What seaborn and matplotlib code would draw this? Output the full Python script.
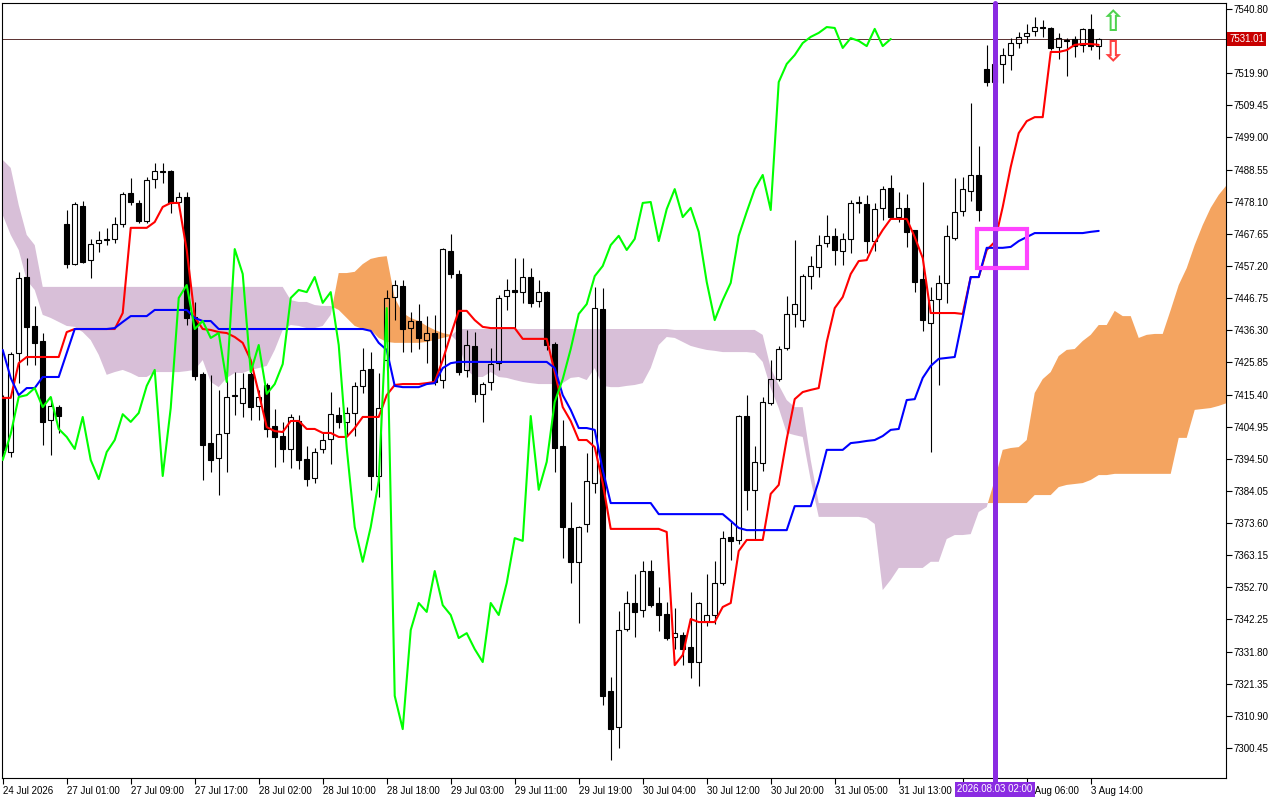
import numpy as np
import pandas as pd
import matplotlib
matplotlib.use('Agg')
import matplotlib.pyplot as plt
import matplotlib.transforms as mtransforms
from matplotlib.patches import Rectangle
import seaborn as sns

# ---------------- data (H1 bars, index 0..137) ----------------
opens = [
    7414.3, 7396.7, 7428.9, 7453.6, 7437.7, 7432.8, 7407.1, 7411.3, 7470.9, 7457.8,
    7476.7, 7459.2, 7464.7, 7465.7, 7466.0, 7470.9, 7480.9, 7477.7, 7471.8, 7485.5,
    7488.1, 7488.1, 7478.0, 7479.6, 7440.6, 7422.1, 7399.6, 7394.8, 7402.9, 7414.9,
    7412.6, 7422.1, 7411.7, 7418.5, 7405.2, 7401.9, 7397.7, 7406.8, 7394.4, 7388.3,
    7397.7, 7400.9, 7408.7, 7406.5, 7409.4, 7418.2, 7423.7, 7388.9, 7426.6, 7447.1,
    7450.7, 7437.0, 7439.3, 7433.1, 7435.4, 7420.1, 7462.1, 7454.6, 7423.4, 7431.2,
    7415.6, 7419.5, 7425.6, 7447.4, 7449.4, 7448.7, 7453.6, 7445.8, 7448.7, 7431.8,
    7398.7, 7372.0, 7361.0, 7373.3, 7386.6, 7443.2, 7319.0, 7307.3, 7339.2, 7347.6,
    7345.3, 7358.0, 7347.6, 7344.0, 7336.5, 7337.2, 7333.3, 7328.4, 7341.7, 7343.7,
    7354.1, 7369.1, 7368.1, 7408.4, 7384.4, 7393.1, 7412.6, 7420.4, 7430.5, 7441.6,
    7439.6, 7453.9, 7456.9, 7464.7, 7467.0, 7462.1, 7466.0, 7477.7, 7477.4, 7465.3,
    7476.1, 7482.6, 7473.1, 7476.1, 7468.9, 7453.0, 7438.7, 7446.5, 7451.7, 7466.3,
    7475.1, 7481.6, 7486.8, 7521.3, 7517.0, 7522.9, 7525.8, 7529.7, 7532.0, 7533.6,
    7534.9, 7534.6, 7528.4, 7530.7, 7531.0, 7529.1, 7534.3, 7528.7]
highs = [
    7415.2, 7429.2, 7455.3, 7459.8, 7444.2, 7435.4, 7414.6, 7412.0, 7475.4, 7478.0,
    7478.3, 7466.0, 7468.6, 7469.6, 7473.1, 7481.3, 7485.8, 7478.7, 7486.1, 7490.7,
    7490.7, 7488.4, 7481.3, 7481.3, 7445.5, 7422.7, 7421.8, 7416.9, 7420.1, 7422.7,
    7422.4, 7422.7, 7416.9, 7419.1, 7410.7, 7406.5, 7409.0, 7408.7, 7398.7, 7398.0,
    7402.9, 7416.2, 7411.3, 7411.3, 7419.5, 7430.5, 7429.2, 7422.4, 7449.4, 7452.6,
    7452.6, 7442.2, 7444.8, 7440.9, 7441.3, 7463.1, 7467.6, 7455.9, 7436.4, 7435.7,
    7419.5, 7430.5, 7447.8, 7453.0, 7459.8, 7459.8, 7456.5, 7452.6, 7449.1, 7432.5,
    7407.1, 7380.5, 7372.6, 7396.4, 7450.4, 7450.0, 7323.5, 7345.0, 7351.5, 7357.0,
    7361.3, 7361.6, 7352.8, 7347.9, 7346.0, 7338.2, 7351.2, 7347.9, 7357.0, 7361.3,
    7371.0, 7374.0, 7408.7, 7415.2, 7398.7, 7414.6, 7426.6, 7431.2, 7447.4, 7465.7,
    7454.6, 7460.4, 7467.3, 7473.8, 7469.6, 7467.9, 7478.7, 7479.9, 7480.3, 7477.7,
    7483.2, 7486.8, 7481.3, 7480.6, 7468.9, 7484.5, 7450.4, 7454.3, 7470.5, 7485.8,
    7486.1, 7510.2, 7496.2, 7529.1, 7523.5, 7528.1, 7531.3, 7533.3, 7535.9, 7538.2,
    7537.2, 7534.9, 7533.0, 7531.3, 7532.0, 7534.6, 7539.1, 7531.3]
lows = [
    7395.7, 7395.1, 7419.1, 7425.0, 7425.0, 7399.0, 7395.7, 7402.9, 7456.5, 7457.5,
    7458.2, 7453.3, 7461.7, 7464.0, 7464.7, 7469.9, 7477.0, 7471.2, 7471.2, 7482.6,
    7484.2, 7474.4, 7477.7, 7438.0, 7420.1, 7387.6, 7390.2, 7382.7, 7390.2, 7408.7,
    7408.1, 7407.1, 7407.1, 7401.6, 7391.8, 7393.5, 7391.5, 7391.2, 7385.6, 7386.6,
    7396.4, 7392.8, 7404.5, 7401.9, 7401.9, 7415.9, 7384.4, 7382.1, 7423.4, 7439.6,
    7429.2, 7429.2, 7430.2, 7425.6, 7418.5, 7417.5, 7453.3, 7421.8, 7421.1, 7413.0,
    7406.5, 7416.9, 7423.4, 7442.9, 7437.0, 7445.2, 7443.9, 7443.9, 7429.9, 7390.2,
    7362.2, 7354.1, 7341.1, 7370.7, 7383.4, 7314.4, 7296.6, 7300.5, 7338.5, 7336.5,
    7343.1, 7346.3, 7338.5, 7335.6, 7332.6, 7327.4, 7323.2, 7320.6, 7340.1, 7340.8,
    7353.5, 7361.6, 7366.8, 7377.9, 7368.4, 7390.5, 7412.0, 7419.8, 7429.9, 7437.4,
    7437.4, 7449.7, 7453.6, 7463.4, 7457.5, 7457.5, 7461.4, 7474.4, 7461.4, 7462.1,
    7472.2, 7472.8, 7471.5, 7463.4, 7448.7, 7436.1, 7396.7, 7418.5, 7445.2, 7465.7,
    7473.4, 7478.3, 7471.8, 7515.7, 7514.4, 7516.7, 7520.9, 7528.1, 7529.7, 7532.0,
    7531.7, 7527.4, 7524.5, 7519.0, 7525.2, 7526.8, 7527.4, 7524.5]
closes = [
    7397.4, 7428.6, 7453.3, 7437.4, 7432.2, 7406.5, 7411.7, 7408.4, 7457.8, 7477.4,
    7458.5, 7464.4, 7465.7, 7466.0, 7470.9, 7480.6, 7478.0, 7471.8, 7485.2, 7488.1,
    7487.8, 7477.7, 7479.6, 7440.3, 7421.4, 7399.0, 7394.1, 7402.6, 7414.6, 7415.2,
    7417.5, 7411.3, 7414.6, 7404.2, 7401.6, 7397.7, 7408.1, 7394.1, 7387.9, 7396.7,
    7400.6, 7409.0, 7406.5, 7409.4, 7418.2, 7423.4, 7388.9, 7411.0, 7446.8, 7451.0,
    7436.7, 7439.3, 7433.8, 7435.4, 7419.5, 7462.7, 7454.6, 7422.7, 7431.5, 7415.6,
    7418.8, 7425.3, 7446.8, 7449.4, 7448.7, 7453.6, 7445.2, 7448.7, 7431.5, 7398.0,
    7372.3, 7361.0, 7372.3, 7387.3, 7443.5, 7317.4, 7306.6, 7338.8, 7347.6, 7344.7,
    7358.0, 7346.9, 7343.7, 7336.2, 7337.8, 7332.6, 7328.4, 7347.6, 7343.7, 7354.1,
    7368.7, 7367.8, 7408.4, 7384.4, 7393.5, 7413.0, 7420.4, 7430.2, 7441.6, 7444.8,
    7453.9, 7457.2, 7464.0, 7467.0, 7462.4, 7466.0, 7477.7, 7478.0, 7465.3, 7475.7,
    7482.2, 7473.1, 7476.1, 7468.3, 7452.0, 7439.6, 7446.1, 7451.7, 7467.0, 7474.8,
    7482.2, 7486.8, 7475.4, 7517.0, 7522.9, 7525.8, 7529.7, 7531.7, 7533.0, 7534.9,
    7534.6, 7528.1, 7531.3, 7530.4, 7528.7, 7534.3, 7528.7, 7531.01]

tenkan = [
    7414.3, 7414.3, 7425.6, 7427.6, 7427.6, 7427.6, 7427.6, 7427.6, 7435.7, 7436.7,
    7436.7, 7436.7, 7436.7, 7436.7, 7436.7, 7441.9, 7469.6, 7469.6, 7469.6, 7471.5,
    7476.4, 7477.7, 7477.7, 7462.4, 7440.6, 7436.7, 7436.4, 7435.7, 7435.4, 7434.1,
    7432.2, 7426.6, 7415.9, 7404.8, 7403.5, 7403.2, 7406.8, 7406.8, 7404.2, 7404.2,
    7402.9, 7402.9, 7401.6, 7401.6, 7404.5, 7408.1, 7408.1, 7408.1, 7415.2, 7418.5,
    7418.8, 7418.8, 7418.8, 7419.1, 7419.5, 7426.6, 7434.8, 7442.6, 7442.6, 7439.6,
    7437.4, 7437.0, 7437.0, 7437.0, 7437.0, 7433.5, 7433.5, 7433.5, 7433.5, 7422.7,
    7411.3, 7406.8, 7400.6, 7400.6, 7398.3, 7386.6, 7371.7, 7371.7, 7371.7, 7371.7,
    7371.7, 7371.7, 7371.7, 7370.7, 7327.4, 7330.7, 7342.4, 7341.4, 7341.4, 7341.4,
    7346.3, 7347.6, 7364.5, 7368.1, 7368.1, 7368.1, 7383.1, 7386.0, 7400.9, 7413.9,
    7416.2, 7416.9, 7417.5, 7432.5, 7443.5, 7447.1, 7454.6, 7458.8, 7459.1, 7464.7,
    7468.9, 7472.5, 7472.5, 7472.5, 7466.6, 7459.8, 7441.9, 7441.9, 7441.9, 7441.9,
    7441.6, 7453.6, 7453.6, 7462.4, 7465.0, 7476.4, 7489.4, 7500.4, 7504.3, 7505.6,
    7505.6, 7526.8, 7526.8, 7527.4, 7529.1, 7529.4, 7529.4, 7529.1]
kijun = [
    7429.9, 7420.8, 7415.2, 7417.5, 7417.5, 7421.1, 7421.1, 7421.1, 7428.9, 7436.7,
    7436.7, 7436.7, 7436.7, 7436.7, 7437.0, 7439.0, 7440.9, 7440.9, 7440.9, 7442.9,
    7442.9, 7442.9, 7442.9, 7442.9, 7440.3, 7439.3, 7439.3, 7436.7, 7436.7, 7436.7,
    7436.7, 7436.7, 7436.7, 7436.7, 7436.7, 7436.7, 7436.7, 7436.7, 7436.7, 7436.7,
    7436.7, 7436.7, 7436.7, 7436.7, 7436.7, 7436.7, 7436.1, 7432.2, 7429.9, 7418.2,
    7417.8, 7417.8, 7417.8, 7418.8, 7419.1, 7424.0, 7425.6, 7426.0, 7426.0, 7426.0,
    7426.0, 7426.0, 7426.0, 7426.0, 7426.0, 7426.0, 7426.0, 7426.0, 7426.0, 7424.0,
    7415.2, 7410.4, 7404.5, 7404.5, 7403.9, 7390.9, 7380.1, 7380.1, 7380.1, 7380.1,
    7380.1, 7380.1, 7376.5, 7376.5, 7376.5, 7376.5, 7376.5, 7376.5, 7376.5, 7376.5,
    7376.5, 7374.3, 7372.0, 7371.3, 7371.3, 7371.3, 7371.3, 7371.3, 7371.3, 7379.1,
    7379.1, 7379.1, 7387.3, 7397.4, 7397.4, 7397.4, 7399.6, 7399.9, 7400.3, 7400.6,
    7401.9, 7403.9, 7404.2, 7413.6, 7413.9, 7420.8, 7424.7, 7427.0, 7427.3, 7427.6,
    7440.3, 7453.6, 7453.6, 7463.1, 7463.1, 7463.1, 7463.4, 7465.3, 7466.6, 7467.9,
    7467.9, 7467.9, 7467.9, 7467.9, 7467.9, 7467.9, 7468.3, 7468.6]

# Senkou spans as displayed (already shifted 26 bars ahead), bars 0..153
span_a = [
    7473.8, 7467.3, 7462.4, 7452.6, 7449.4, 7441.3, 7440.3, 7439.0, 7437.7, 7437.4,
    7435.7, 7433.1, 7428.3, 7421.8, 7422.7, 7423.4, 7422.4, 7421.1, 7421.1, 7422.7,
    7422.7, 7422.7, 7422.7, 7423.0, 7423.4, 7426.6, 7419.5, 7417.8, 7420.8, 7422.4,
    7422.4, 7423.4, 7424.0, 7424.7, 7429.9, 7436.4, 7438.0, 7437.7, 7437.0, 7437.0,
    7437.7, 7441.3, 7454.9, 7454.9, 7455.3, 7457.8, 7459.5, 7460.1, 7460.4, 7446.8,
    7441.9, 7440.3, 7439.3, 7437.7, 7436.4, 7435.4, 7434.8, 7432.2, 7423.4, 7421.1,
    7421.1, 7422.7, 7421.1, 7420.8, 7420.1, 7419.5, 7419.1, 7418.8, 7418.8, 7418.8,
    7419.1, 7420.8, 7421.1, 7420.1, 7424.0, 7418.2, 7417.8, 7417.8, 7418.2, 7418.5,
    7419.1, 7424.0, 7431.5, 7434.1, 7433.8, 7432.5, 7431.2, 7430.5, 7429.9, 7429.6,
    7429.2, 7429.2, 7429.2, 7429.2, 7428.9, 7426.0, 7417.5, 7411.0, 7402.9, 7402.2,
    7401.6, 7387.6, 7375.6, 7375.6, 7375.6, 7375.6, 7375.6, 7375.6, 7375.2, 7373.3,
    7351.8, 7355.1, 7359.0, 7359.0, 7359.0, 7359.0, 7361.0, 7361.0, 7368.4, 7369.7,
    7369.7, 7370.0, 7377.2, 7378.8, 7387.6, 7397.4, 7398.0, 7398.3, 7400.6, 7415.9,
    7420.4, 7422.7, 7427.9, 7429.9, 7430.2, 7432.8, 7434.8, 7438.0, 7438.0, 7442.6,
    7440.9, 7440.9, 7433.8, 7434.8, 7435.1, 7435.1, 7442.9, 7451.0, 7456.5, 7464.0,
    7470.5, 7476.1, 7480.3, 7483.5]
span_b = [
    7491.7, 7489.1, 7477.0, 7467.3, 7464.0, 7450.4, 7450.4, 7450.4, 7450.4, 7450.4,
    7450.4, 7450.4, 7450.4, 7450.4, 7450.4, 7450.4, 7450.4, 7450.4, 7450.4, 7450.4,
    7450.4, 7450.4, 7450.4, 7450.4, 7450.4, 7450.4, 7450.4, 7450.4, 7450.4, 7450.4,
    7450.4, 7450.4, 7450.4, 7450.4, 7450.4, 7450.4, 7446.1, 7445.5, 7445.5, 7444.5,
    7444.2, 7444.2, 7442.9, 7440.3, 7437.7, 7436.7, 7436.4, 7433.8, 7432.5, 7432.2,
    7432.2, 7432.2, 7432.2, 7432.5, 7433.1, 7433.8, 7434.4, 7436.7, 7436.7, 7436.7,
    7436.7, 7436.7, 7436.7, 7436.7, 7436.7, 7436.7, 7436.7, 7436.7, 7436.7, 7436.7,
    7436.7, 7436.7, 7436.7, 7436.7, 7436.7, 7436.7, 7436.7, 7436.7, 7436.7, 7436.7,
    7436.7, 7436.7, 7436.7, 7436.7, 7436.4, 7436.4, 7436.4, 7436.4, 7436.4, 7436.4,
    7436.4, 7436.4, 7436.4, 7436.4, 7436.4, 7434.8, 7424.0, 7418.5, 7413.6, 7411.3,
    7411.3, 7394.1, 7380.1, 7380.1, 7380.1, 7380.1, 7380.1, 7380.1, 7380.1, 7380.1,
    7380.1, 7380.1, 7380.1, 7380.1, 7380.1, 7380.1, 7380.1, 7380.1, 7380.1, 7380.1,
    7380.1, 7380.1, 7380.1, 7380.1, 7380.1, 7380.1, 7380.1, 7380.1, 7380.1, 7382.7,
    7382.7, 7382.7, 7385.3, 7386.0, 7386.3, 7386.6, 7387.6, 7389.2, 7389.2, 7389.6,
    7389.6, 7389.6, 7389.6, 7389.6, 7389.6, 7389.6, 7389.6, 7401.3, 7401.3, 7410.4,
    7410.7, 7411.0, 7411.7, 7412.6]

chikou_shift = 26
current_price = 7531.01
marker_bar = 124
marker_label = "2026.08.03 02:00"
box_bars = (121.8, 128.0)
box_prices = (7456.5, 7469.2)

x_tick_bars = [0, 8, 16, 24, 32, 40, 48, 56, 64, 72, 80, 88, 96, 104, 112, 120, 128, 136]
x_tick_labels = ["24 Jul 2026", "27 Jul 01:00", "27 Jul 09:00", "27 Jul 17:00",
                 "28 Jul 02:00", "28 Jul 10:00", "28 Jul 18:00", "29 Jul 03:00",
                 "29 Jul 11:00", "29 Jul 19:00", "30 Jul 04:00", "30 Jul 12:00",
                 "30 Jul 20:00", "31 Jul 05:00", "31 Jul 13:00", "", "3 Aug 06:00",
                 "3 Aug 14:00"]
y_ticks = [7540.80, 7519.90, 7509.45, 7499.00, 7488.55, 7478.10, 7467.65, 7457.20,
           7446.75, 7436.30, 7425.85, 7415.40, 7404.95, 7394.50, 7384.05, 7373.60,
           7363.15, 7352.70, 7342.25, 7331.80, 7321.35, 7310.90, 7300.45]

# ---------------- style ----------------
sns.set_style('white')
plt.rcParams['font.family'] = ['Liberation Sans', 'DejaVu Sans']

fig = plt.figure(figsize=(12.8, 8), dpi=100)
fig.patch.set_facecolor('white')
ax = fig.add_axes([2 / 1280, 22 / 800, 1224 / 1280, 775 / 800])

# ---------------- cloud ----------------
sa = np.array(span_a)
sb = np.array(span_b)
xs = np.arange(len(sa))
ax.fill_between(xs, sa, sb, where=sa >= sb, interpolate=True,
                color='#F4A460', lw=0, zorder=1)
ax.fill_between(xs, sa, sb, where=sa < sb, interpolate=True,
                color='#D8BFD8', lw=0, zorder=1)

# ---------------- candles ----------------
o = np.array(opens); h = np.array(highs); l = np.array(lows); c = np.array(closes)
bx = np.arange(len(c))
top = np.maximum(o, c)
bot = np.minimum(o, c)
ax.vlines(bx, top, h, color='black', lw=0.8, zorder=2)
ax.vlines(bx, l, bot, color='black', lw=0.8, zorder=2)
bh = np.maximum(top - bot, 0.25)
up = c >= o
ax.bar(bx[up], bh[up], bottom=bot[up], width=0.56, facecolor='none',
       edgecolor='black', linewidth=0.8, zorder=2.5)
ax.bar(bx[~up], bh[~up], bottom=bot[~up], width=0.56, facecolor='black',
       edgecolor='black', linewidth=0.8, zorder=2.5)

# ---------------- ichimoku lines ----------------
df = pd.DataFrame({'bar': bx, 'tenkan': tenkan, 'kijun': kijun})
chik = pd.DataFrame({'bar': bx - chikou_shift, 'chikou': closes})
sns.lineplot(data=df, x='bar', y='tenkan', color='#ff0000', linewidth=1.5,
             ax=ax, zorder=3)
sns.lineplot(data=df, x='bar', y='kijun', color='#0000ff', linewidth=1.5,
             ax=ax, zorder=3.1)
sns.lineplot(data=chik, x='bar', y='chikou', color='#00ff00', linewidth=1.5,
             ax=ax, zorder=3.2)

# ---------------- annotations ----------------
ax.axhline(current_price, color='#5a3030', lw=0.7, zorder=1.5)
ax.axvline(marker_bar, ymin=-0.007, ymax=1, color='#8a2be2', lw=3.6,
           zorder=4, clip_on=False)
ax.add_patch(Rectangle((box_bars[0], box_prices[0]), box_bars[1] - box_bars[0],
                       box_prices[1] - box_prices[0], fill=False,
                       edgecolor='#ff44ff', linewidth=3, zorder=5))

ax.set_xlim(-0.09, 152.91)
ax.set_ylim(7290.69, 7542.72)

ax.set_xticks(x_tick_bars)
ax.set_xticklabels(x_tick_labels)
ax.set_yticks(y_ticks)
ax.set_yticklabels([f'{v:.2f}' for v in y_ticks])
ax.yaxis.tick_right()
ax.tick_params(axis='x', direction='out', length=4, width=0.8, pad=1.5,
               labelsize=7, colors='black', bottom=True, top=False)
ax.tick_params(axis='y', direction='out', length=4, width=0.8, pad=1.5,
               labelsize=7, colors='black', right=True, left=False)
for lbl in ax.get_xticklabels():
    lbl.set_horizontalalignment('left')
ax.set_xlabel('')
ax.set_ylabel('')
for sp in ax.spines.values():
    sp.set_color('black')
    sp.set_linewidth(0.8)
    sp.set_visible(True)

trans_x = mtransforms.blended_transform_factory(ax.transData, ax.transAxes)
ax.text(marker_bar, -0.0145, marker_label, transform=trans_x, ha='center',
        va='center', color='white', fontsize=7, zorder=20, clip_on=False,
        bbox=dict(boxstyle='square,pad=0.25', fc='#8a2be2', ec='none'))
trans_y = mtransforms.blended_transform_factory(ax.transAxes, ax.transData)
ax.text(1.0 + 3 / 1224, current_price, f'{current_price:.2f}', transform=trans_y,
        ha='left', va='center', color='white', fontsize=7, zorder=20,
        clip_on=False,
        bbox=dict(boxstyle='square,pad=0.25', fc='#c80000', ec='none'))

ax.text(0.9077, 0.974, '\u21e7', transform=ax.transAxes, ha='center',
        va='center', color='#4fd24f', fontsize=21, fontweight='bold',
        family=['DejaVu Sans'], zorder=20)
ax.text(0.9077, 0.936, '\u21e9', transform=ax.transAxes, ha='center',
        va='center', color='#ff4040', fontsize=21, fontweight='bold',
        family=['DejaVu Sans'], zorder=20)

fig.savefig('out.png', dpi=100)
